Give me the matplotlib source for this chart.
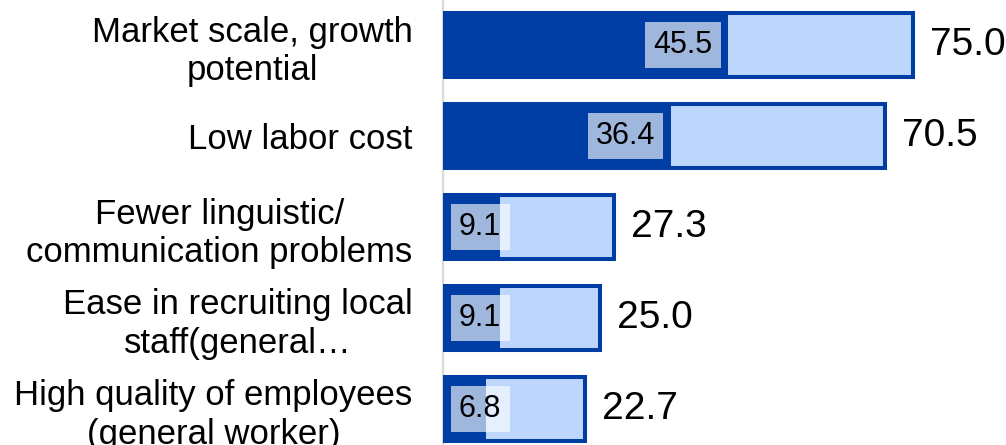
import matplotlib
matplotlib.use('Agg')
import matplotlib.pyplot as plt
from matplotlib.transforms import offset_copy

plt.rcParams['font.family'] = ['Liberation Sans', 'DejaVu Sans']

categories = ['Market scale, growth\npotential',
              'Low labor cost',
              'Fewer linguistic/\ncommunication problems',
              'Ease in recruiting local\nstaff(general\u2026',
              'High quality of employees\n(general worker)']
total = [75.0, 70.5, 27.3, 25.0, 22.7]
inner = [45.5, 36.4, 9.1, 9.1, 6.8]

dark = '#003da5'
light = '#bdd6fc'

fig = plt.figure(figsize=(10.06, 4.45), dpi=100)
ax = fig.add_axes([443 / 1006, 0, 1 - 443 / 1006, 1])

y = list(range(len(categories)))
ax.barh(y, total, height=0.70, color=light, edgecolor=dark, linewidth=2.9, zorder=2)
ax.barh(y, inner, height=0.70 + 0.045, color=dark, linewidth=0, zorder=3)

ax.set_xlim(0, (1006 - 443) / 6.27)
ax.set_ylim(4.396, -0.495)

# total labels right of the bars
for yi, v in zip(y, total):
    tr = offset_copy(ax.transData, fig=fig, x=17, y=0, units='dots')
    ax.text(v, yi, '%.1f' % v, transform=tr, ha='left', va='center',
            fontsize=28, color='black', zorder=5)

# inner labels with a pale box
for yi, v in zip(y, inner):
    if v < 15:
        tr = offset_copy(ax.transData, fig=fig, x=16, y=0, units='dots')
        x, ha = 0, 'left'
    else:
        tr = offset_copy(ax.transData, fig=fig, x=-16, y=0, units='dots')
        x, ha = v, 'right'
    ax.text(x, yi, '%.1f' % v, transform=tr, ha=ha, va='center',
            fontsize=22, color='black', zorder=6,
            bbox=dict(boxstyle='square,pad=0.27', facecolor='white',
                      edgecolor='none', alpha=0.63))

ax.set_yticks(y)
ax.set_yticklabels(categories, fontsize=25, multialignment='center')
ax.tick_params(axis='y', length=0, pad=22)
ax.set_xticks([])

for s in ['top', 'right', 'bottom']:
    ax.spines[s].set_visible(False)
ax.spines['left'].set_color('#d9d9d9')
ax.spines['left'].set_linewidth(1.6)
ax.spines['left'].set_zorder(1)

fig.savefig('out.png', dpi=100)
